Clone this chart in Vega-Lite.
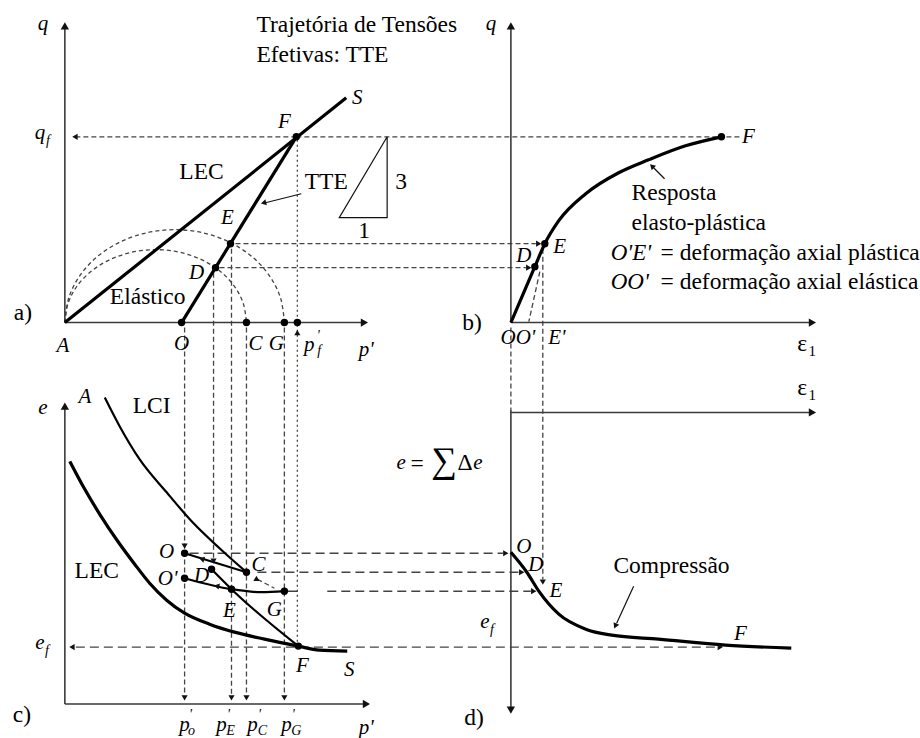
{
  "$schema": "https://vega.github.io/schema/vega-lite/v6.json",
  "width": 920,
  "height": 738,
  "autosize": {"type": "fit", "contains": "padding"},
  "padding": 0,
  "background": "white",
  "config": {"view": {"stroke": null}},
  "datasets": {
    "axes": [
      {"id": "aq", "i": 0, "x": 65, "y": 323}, {"id": "aq", "i": 1, "x": 65, "y": 26},
      {"id": "ap", "i": 0, "x": 65, "y": 323}, {"id": "ap", "i": 1, "x": 362, "y": 323},
      {"id": "bq", "i": 0, "x": 512, "y": 323}, {"id": "bq", "i": 1, "x": 512, "y": 26},
      {"id": "be", "i": 0, "x": 512, "y": 323}, {"id": "be", "i": 1, "x": 812, "y": 323},
      {"id": "ce", "i": 0, "x": 65, "y": 705}, {"id": "ce", "i": 1, "x": 65, "y": 407},
      {"id": "cp", "i": 0, "x": 65, "y": 705}, {"id": "cp", "i": 1, "x": 364, "y": 705},
      {"id": "dv", "i": 0, "x": 512, "y": 410}, {"id": "dv", "i": 1, "x": 512, "y": 710},
      {"id": "dh", "i": 0, "x": 512, "y": 413}, {"id": "dh", "i": 1, "x": 811, "y": 413}
    ],
    "axisTips": [
      {"x": 65, "y": 27, "dir": 0}, {"x": 512, "y": 27, "dir": 0},
      {"x": 364, "y": 323, "dir": 90}, {"x": 813, "y": 323, "dir": 90},
      {"x": 65, "y": 408, "dir": 0}, {"x": 366, "y": 705, "dir": 90},
      {"x": 512, "y": 710, "dir": 180}, {"x": 813, "y": 413, "dir": 90}
    ],
    "guidesShort": [
      {"id": "qf", "i": 0, "x": 297, "y": 137}, {"id": "qf", "i": 1, "x": 76, "y": 137},
      {"id": "fr", "i": 0, "x": 297, "y": 137}, {"id": "fr", "i": 1, "x": 718, "y": 137},
      {"id": "fr2", "i": 0, "x": 728, "y": 137}, {"id": "fr2", "i": 1, "x": 742, "y": 137},
      {"id": "er", "i": 0, "x": 236, "y": 244}, {"id": "er", "i": 1, "x": 537, "y": 244},
      {"id": "dr", "i": 0, "x": 220, "y": 268}, {"id": "dr", "i": 1, "x": 527, "y": 268},
      {"id": "vo", "i": 0, "x": 185, "y": 328}, {"id": "vo", "i": 1, "x": 185, "y": 695},
      {"id": "vd", "i": 0, "x": 214, "y": 273}, {"id": "vd", "i": 1, "x": 214, "y": 562},
      {"id": "ve", "i": 0, "x": 232, "y": 249}, {"id": "ve", "i": 1, "x": 232, "y": 695},
      {"id": "vc", "i": 0, "x": 247, "y": 328}, {"id": "vc", "i": 1, "x": 247, "y": 695},
      {"id": "vg", "i": 0, "x": 285, "y": 328}, {"id": "vg", "i": 1, "x": 285, "y": 695},
      {"id": "bo", "i": 0, "x": 541, "y": 272}, {"id": "bo", "i": 1, "x": 530, "y": 322},
      {"id": "bv", "i": 0, "x": 544, "y": 249}, {"id": "bv", "i": 1, "x": 544, "y": 580},
      {"id": "b0", "i": 0, "x": 512, "y": 328}, {"id": "b0", "i": 1, "x": 512, "y": 410},
      {"id": "cg", "i": 0, "x": 258, "y": 580}, {"id": "cg", "i": 1, "x": 275, "y": 589}
    ],
    "guidesDotted": [
      {"id": "vf", "i": 0, "x": 298, "y": 140}, {"id": "vf", "i": 1, "x": 298, "y": 644}
    ],
    "guidesLong": [
      {"id": "ro", "i": 0, "x": 190, "y": 554}, {"id": "ro", "i": 1, "x": 504, "y": 554},
      {"id": "rc", "i": 0, "x": 258, "y": 573}, {"id": "rc", "i": 1, "x": 520, "y": 573},
      {"id": "rg", "i": 0, "x": 328, "y": 592}, {"id": "rg", "i": 1, "x": 532, "y": 592},
      {"id": "ef", "i": 0, "x": 76, "y": 648}, {"id": "ef", "i": 1, "x": 718, "y": 648}
    ],
    "yieldCurves": [
      {"id": "outer", "i": 0, "x": 65, "y": 323}, {"id": "outer", "i": 1, "x": 68.7, "y": 298.9},
      {"id": "outer", "i": 2, "x": 79.7, "y": 276.5}, {"id": "outer", "i": 3, "x": 97.2, "y": 257.2},
      {"id": "outer", "i": 4, "x": 120, "y": 242.5}, {"id": "outer", "i": 5, "x": 146.5, "y": 233.2},
      {"id": "outer", "i": 6, "x": 175, "y": 230}, {"id": "outer", "i": 7, "x": 203.5, "y": 233.2},
      {"id": "outer", "i": 8, "x": 230, "y": 242.5}, {"id": "outer", "i": 9, "x": 252.8, "y": 257.2},
      {"id": "outer", "i": 10, "x": 270.3, "y": 276.5}, {"id": "outer", "i": 11, "x": 281.3, "y": 298.9},
      {"id": "outer", "i": 12, "x": 285, "y": 323},
      {"id": "inner", "i": 0, "x": 65, "y": 323}, {"id": "inner", "i": 1, "x": 68.1, "y": 304.1},
      {"id": "inner", "i": 2, "x": 77.2, "y": 286.5}, {"id": "inner", "i": 3, "x": 91.7, "y": 271.4},
      {"id": "inner", "i": 4, "x": 110.5, "y": 259.8}, {"id": "inner", "i": 5, "x": 132.4, "y": 252.5},
      {"id": "inner", "i": 6, "x": 156, "y": 250}, {"id": "inner", "i": 7, "x": 179.6, "y": 252.5},
      {"id": "inner", "i": 8, "x": 201.5, "y": 259.8}, {"id": "inner", "i": 9, "x": 220.3, "y": 271.4},
      {"id": "inner", "i": 10, "x": 234.8, "y": 286.5}, {"id": "inner", "i": 11, "x": 243.9, "y": 304.1},
      {"id": "inner", "i": 12, "x": 247, "y": 323}
    ],
    "thinLines": [
      {"id": "tri", "i": 0, "x": 388, "y": 137}, {"id": "tri", "i": 1, "x": 340, "y": 218},
      {"id": "tri", "i": 2, "x": 388, "y": 218}, {"id": "tri", "i": 3, "x": 388, "y": 137},
      {"id": "tte", "i": 0, "x": 302, "y": 194}, {"id": "tte", "i": 1, "x": 266, "y": 203},
      {"id": "resp", "i": 0, "x": 666, "y": 179}, {"id": "resp", "i": 1, "x": 655, "y": 168},
      {"id": "comp", "i": 0, "x": 635, "y": 587}, {"id": "comp", "i": 1, "x": 618, "y": 624},
      {"id": "gs", "i": 0, "x": 285, "y": 592}, {"id": "gs", "i": 1, "x": 298, "y": 592}
    ],
    "mediumCurves": [
      {"id": "lci", "i": 0, "x": 105, "y": 398}, {"id": "lci", "i": 1, "x": 120, "y": 427},
      {"id": "lci", "i": 2, "x": 140, "y": 460}, {"id": "lci", "i": 3, "x": 167, "y": 493},
      {"id": "lci", "i": 4, "x": 193, "y": 523}, {"id": "lci", "i": 5, "x": 220, "y": 549},
      {"id": "lci", "i": 6, "x": 247, "y": 573},
      {"id": "def", "i": 0, "x": 212, "y": 570}, {"id": "def", "i": 1, "x": 232, "y": 590},
      {"id": "def", "i": 2, "x": 299, "y": 647},
      {"id": "oc", "i": 0, "x": 185, "y": 554}, {"id": "oc", "i": 1, "x": 247, "y": 573},
      {"id": "og", "i": 0, "x": 185, "y": 579}, {"id": "og", "i": 1, "x": 232, "y": 590},
      {"id": "og", "i": 2, "x": 262, "y": 593}, {"id": "og", "i": 3, "x": 285, "y": 592}
    ],
    "thickCurves": [
      {"id": "leca", "i": 0, "x": 65, "y": 323}, {"id": "leca", "i": 1, "x": 347, "y": 98},
      {"id": "ttea", "i": 0, "x": 182, "y": 323}, {"id": "ttea", "i": 1, "x": 297, "y": 137},
      {"id": "qe", "i": 0, "x": 512, "y": 323}, {"id": "qe", "i": 1, "x": 536, "y": 267},
      {"id": "qe", "i": 2, "x": 546, "y": 244}, {"id": "qe", "i": 3, "x": 560, "y": 221},
      {"id": "qe", "i": 4, "x": 587, "y": 194}, {"id": "qe", "i": 5, "x": 620, "y": 173},
      {"id": "qe", "i": 6, "x": 650, "y": 160}, {"id": "qe", "i": 7, "x": 687, "y": 146},
      {"id": "qe", "i": 8, "x": 723, "y": 137},
      {"id": "lecc", "i": 0, "x": 70, "y": 462}, {"id": "lecc", "i": 1, "x": 85, "y": 490},
      {"id": "lecc", "i": 2, "x": 100, "y": 515}, {"id": "lecc", "i": 3, "x": 118, "y": 542},
      {"id": "lecc", "i": 4, "x": 135, "y": 565}, {"id": "lecc", "i": 5, "x": 150, "y": 584},
      {"id": "lecc", "i": 6, "x": 167, "y": 601}, {"id": "lecc", "i": 7, "x": 185, "y": 614},
      {"id": "lecc", "i": 8, "x": 210, "y": 625}, {"id": "lecc", "i": 9, "x": 235, "y": 633},
      {"id": "lecc", "i": 10, "x": 265, "y": 640}, {"id": "lecc", "i": 11, "x": 299, "y": 647},
      {"id": "lecc", "i": 12, "x": 320, "y": 651}, {"id": "lecc", "i": 13, "x": 348, "y": 652},
      {"id": "de", "i": 0, "x": 512, "y": 553}, {"id": "de", "i": 1, "x": 528, "y": 573},
      {"id": "de", "i": 2, "x": 540, "y": 592}, {"id": "de", "i": 3, "x": 560, "y": 615},
      {"id": "de", "i": 4, "x": 587, "y": 630}, {"id": "de", "i": 5, "x": 613, "y": 636},
      {"id": "de", "i": 6, "x": 660, "y": 640}, {"id": "de", "i": 7, "x": 727, "y": 646},
      {"id": "de", "i": 8, "x": 793, "y": 649}
    ],
    "dots": [
      {"x": 297, "y": 137}, {"x": 231, "y": 244}, {"x": 216, "y": 268}, {"x": 182, "y": 323},
      {"x": 247, "y": 323}, {"x": 285, "y": 323}, {"x": 298, "y": 323},
      {"x": 723, "y": 137}, {"x": 546, "y": 244}, {"x": 536, "y": 267},
      {"x": 185, "y": 554}, {"x": 212, "y": 570}, {"x": 247, "y": 573}, {"x": 185, "y": 579},
      {"x": 232, "y": 590}, {"x": 285, "y": 592}, {"x": 299, "y": 647}
    ],
    "arrowTips": [
      {"x": 76, "y": 137, "dir": 270}, {"x": 298, "y": 334, "dir": 0}, {"x": 265, "y": 203, "dir": 256},
      {"x": 539, "y": 244, "dir": 90}, {"x": 529, "y": 268, "dir": 90}, {"x": 654, "y": 167, "dir": 315},
      {"x": 185, "y": 546, "dir": 180}, {"x": 214, "y": 561, "dir": 180},
      {"x": 185, "y": 698, "dir": 180}, {"x": 232, "y": 698, "dir": 180},
      {"x": 247, "y": 698, "dir": 180}, {"x": 285, "y": 698, "dir": 180},
      {"x": 73, "y": 648, "dir": 270}, {"x": 203, "y": 560, "dir": 287}, {"x": 218, "y": 587, "dir": 283},
      {"x": 257, "y": 580, "dir": 120},
      {"x": 506, "y": 554, "dir": 90}, {"x": 522, "y": 573, "dir": 90}, {"x": 534, "y": 592, "dir": 90},
      {"x": 544, "y": 582, "dir": 180}, {"x": 721, "y": 648, "dir": 90}, {"x": 617, "y": 626, "dir": 205}
    ],
    "italicLabels": [
      {"t": "q", "x": 43, "y": 24}, {"t": "A", "x": 63, "y": 346}, {"t": "F", "x": 285, "y": 122},
      {"t": "S", "x": 358, "y": 98}, {"t": "E", "x": 228, "y": 218}, {"t": "D", "x": 197, "y": 273},
      {"t": "O", "x": 182, "y": 344}, {"t": "C", "x": 256, "y": 344}, {"t": "G", "x": 277, "y": 344},
      {"t": "p'", "x": 367, "y": 350}, {"t": "p", "x": 310, "y": 345}, {"t": "q", "x": 40, "y": 133},
      {"t": "q", "x": 492, "y": 24}, {"t": "E", "x": 561, "y": 247}, {"t": "D", "x": 525, "y": 256},
      {"t": "F", "x": 750, "y": 137}, {"t": "OO'", "x": 519, "y": 338}, {"t": "E'", "x": 558, "y": 338},
      {"t": "e", "x": 43, "y": 409}, {"t": "A", "x": 85, "y": 398}, {"t": "O", "x": 167, "y": 553},
      {"t": "O'", "x": 168, "y": 580}, {"t": "D", "x": 202, "y": 577}, {"t": "C", "x": 259, "y": 566},
      {"t": "E", "x": 230, "y": 612}, {"t": "G", "x": 275, "y": 611}, {"t": "F", "x": 303, "y": 667},
      {"t": "S", "x": 350, "y": 671}, {"t": "e", "x": 40, "y": 644}, {"t": "p'", "x": 367, "y": 729},
      {"t": "O", "x": 525, "y": 548}, {"t": "D", "x": 537, "y": 566}, {"t": "E", "x": 557, "y": 592},
      {"t": "F", "x": 742, "y": 635}, {"t": "e", "x": 486, "y": 623},
      {"t": "p", "x": 185, "y": 726}, {"t": "p", "x": 222, "y": 726}, {"t": "p", "x": 253, "y": 726},
      {"t": "p", "x": 287, "y": 726}, {"t": "e", "x": 402, "y": 464}, {"t": "e", "x": 479, "y": 464}
    ],
    "smallItalic": [
      {"t": "f", "x": 48, "y": 141}, {"t": "f", "x": 320, "y": 351}, {"t": "'", "x": 319, "y": 336},
      {"t": "f", "x": 47, "y": 652}, {"t": "f", "x": 493, "y": 631},
      {"t": "o", "x": 192, "y": 732}, {"t": "E", "x": 231, "y": 732}, {"t": "C", "x": 263, "y": 732},
      {"t": "G", "x": 297, "y": 732},
      {"t": "'", "x": 191, "y": 716}, {"t": "'", "x": 229, "y": 716}, {"t": "'", "x": 260, "y": 716},
      {"t": "'", "x": 294, "y": 716}
    ],
    "romanLabels": [
      {"t": "LEC", "x": 202, "y": 172}, {"t": "TTE", "x": 327, "y": 182}, {"t": "3", "x": 402, "y": 182},
      {"t": "1", "x": 365, "y": 231}, {"t": "Elástico", "x": 148, "y": 297}, {"t": "LCI", "x": 152, "y": 407},
      {"t": "LEC", "x": 97, "y": 572}, {"t": "Compressão", "x": 673, "y": 567}, {"t": "=", "x": 418, "y": 465},
      {"t": "Δ", "x": 466, "y": 464}, {"t": "a)", "x": 23, "y": 313}, {"t": "b)", "x": 473, "y": 323},
      {"t": "c)", "x": 22, "y": 716}, {"t": "d)", "x": 475, "y": 719},
      {"t": "ε", "x": 804, "y": 344}, {"t": "ε", "x": 804, "y": 389}
    ],
    "smallRoman": [
      {"t": "1", "x": 814, "y": 351}, {"t": "1", "x": 814, "y": 396}
    ],
    "notes": [
      {"t": "Trajetória de Tensões", "x": 257, "y": 25}, {"t": "Efetivas: TTE", "x": 257, "y": 55},
      {"t": "Resposta", "x": 633, "y": 193}, {"t": "elasto-plástica", "x": 633, "y": 223},
      {"t": "= deformação axial plástica", "x": 662, "y": 253},
      {"t": "= deformação axial elástica", "x": 662, "y": 282}
    ],
    "italicNotes": [
      {"t": "O'E'", "x": 612, "y": 253}, {"t": "OO'", "x": 612, "y": 282}
    ],
    "sigma": [
      {"t": "∑", "x": 445, "y": 462}
    ]
  },
  "encoding": {
    "x": {"field": "x", "type": "quantitative", "scale": {"domain": [0, 920], "nice": false, "zero": false}, "axis": null},
    "y": {"field": "y", "type": "quantitative", "scale": {"domain": [0, 738], "nice": false, "zero": false, "reverse": true}, "axis": null}
  },
  "layer": [
    {
      "data": {"name": "yieldCurves"},
      "mark": {"type": "line", "interpolate": "cardinal", "stroke": "#444", "strokeWidth": 1.3, "strokeDash": [4, 3]},
      "encoding": {"detail": {"field": "id"}, "order": {"field": "i"}}
    },
    {
      "data": {"name": "guidesShort"},
      "mark": {"type": "line", "stroke": "#444", "strokeWidth": 1.3, "strokeDash": [5, 3]},
      "encoding": {"detail": {"field": "id"}, "order": {"field": "i"}}
    },
    {
      "data": {"name": "guidesDotted"},
      "mark": {"type": "line", "stroke": "#444", "strokeWidth": 1.3, "strokeDash": [2, 3]},
      "encoding": {"detail": {"field": "id"}, "order": {"field": "i"}}
    },
    {
      "data": {"name": "guidesLong"},
      "mark": {"type": "line", "stroke": "#444", "strokeWidth": 1.4, "strokeDash": [9, 5]},
      "encoding": {"detail": {"field": "id"}, "order": {"field": "i"}}
    },
    {
      "data": {"name": "axes"},
      "mark": {"type": "line", "stroke": "#3a3a3a", "strokeWidth": 1.6},
      "encoding": {"detail": {"field": "id"}, "order": {"field": "i"}}
    },
    {
      "data": {"name": "thinLines"},
      "mark": {"type": "line", "stroke": "#111", "strokeWidth": 1.2},
      "encoding": {"detail": {"field": "id"}, "order": {"field": "i"}}
    },
    {
      "data": {"name": "mediumCurves"},
      "mark": {"type": "line", "interpolate": "monotone", "stroke": "#000", "strokeWidth": 2.2},
      "encoding": {"detail": {"field": "id"}, "order": {"field": "i"}}
    },
    {
      "data": {"name": "thickCurves"},
      "mark": {"type": "line", "interpolate": "monotone", "stroke": "#000", "strokeWidth": 3.2},
      "encoding": {"detail": {"field": "id"}, "order": {"field": "i"}}
    },
    {
      "data": {"name": "dots"},
      "mark": {"type": "point", "shape": "circle", "filled": true, "color": "#000", "size": 55, "opacity": 1}
    },
    {
      "data": {"name": "axisTips"},
      "mark": {"type": "point", "shape": "triangle", "filled": true, "color": "#111", "size": 70, "opacity": 1},
      "encoding": {"angle": {"field": "dir", "type": "quantitative", "scale": null}}
    },
    {
      "data": {"name": "arrowTips"},
      "mark": {"type": "point", "shape": "triangle", "filled": true, "color": "#111", "size": 38, "opacity": 1},
      "encoding": {"angle": {"field": "dir", "type": "quantitative", "scale": null}}
    },
    {
      "data": {"name": "italicLabels"},
      "mark": {"type": "text", "font": "Liberation Serif", "fontStyle": "italic", "fontSize": 21, "align": "center", "baseline": "middle", "color": "#000"},
      "encoding": {"text": {"field": "t"}}
    },
    {
      "data": {"name": "smallItalic"},
      "mark": {"type": "text", "font": "Liberation Serif", "fontStyle": "italic", "fontSize": 14, "align": "center", "baseline": "middle", "color": "#000"},
      "encoding": {"text": {"field": "t"}}
    },
    {
      "data": {"name": "romanLabels"},
      "mark": {"type": "text", "font": "Liberation Serif", "fontSize": 23.5, "align": "center", "baseline": "middle", "color": "#000"},
      "encoding": {"text": {"field": "t"}}
    },
    {
      "data": {"name": "smallRoman"},
      "mark": {"type": "text", "font": "Liberation Serif", "fontSize": 15, "align": "center", "baseline": "middle", "color": "#000"},
      "encoding": {"text": {"field": "t"}}
    },
    {
      "data": {"name": "notes"},
      "mark": {"type": "text", "font": "Liberation Serif", "fontSize": 23.5, "align": "left", "baseline": "middle", "color": "#000"},
      "encoding": {"text": {"field": "t"}}
    },
    {
      "data": {"name": "italicNotes"},
      "mark": {"type": "text", "font": "Liberation Serif", "fontStyle": "italic", "fontSize": 23, "align": "left", "baseline": "middle", "color": "#000"},
      "encoding": {"text": {"field": "t"}}
    },
    {
      "data": {"name": "sigma"},
      "mark": {"type": "text", "font": "Liberation Serif", "fontSize": 36, "align": "center", "baseline": "middle", "color": "#000"},
      "encoding": {"text": {"field": "t"}}
    }
  ]
}
